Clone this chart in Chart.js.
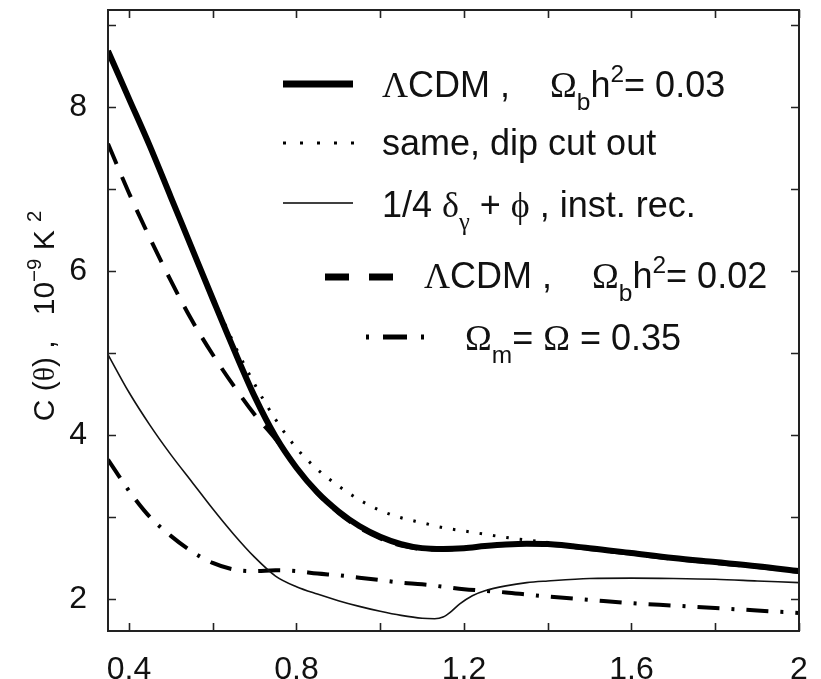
<!DOCTYPE html>
<html>
<head>
<meta charset="utf-8">
<script src="https://cdn.jsdelivr.net/npm/chart.js@4.4.1/dist/chart.umd.min.js"></script>
<style>
  html, body { margin: 0; padding: 0; background: #fff; }
</style>
</head>
<body>
<canvas id="c" width="821" height="679"></canvas>
<script>
// angle theta (deg) sampled on a common grid
var xGrid = [0.35, 0.40, 0.45, 0.50, 0.55, 0.60, 0.65, 0.70, 0.75, 0.80, 0.85, 0.90, 0.95, 1.00,
             1.05, 1.10, 1.15, 1.20, 1.25, 1.30, 1.35, 1.40, 1.50, 1.60, 1.70, 1.80, 1.90, 2.00];

// LCDM, Omega_b h^2 = 0.03
var lcdm03 = [8.68, 8.10, 7.52, 6.90, 6.28, 5.66, 5.05, 4.47, 3.98, 3.60, 3.30, 3.07, 2.89, 2.76,
              2.67, 2.62, 2.61, 2.62, 2.645, 2.665, 2.675, 2.67, 2.62, 2.56, 2.50, 2.45, 2.40, 2.34];
// same, dip cut out
var dipCut = [8.68, 8.10, 7.52, 6.90, 6.29, 5.69, 5.12, 4.62, 4.19, 3.84, 3.58, 3.38, 3.21, 3.08,
              2.99, 2.93, 2.87, 2.83, 2.79, 2.75, 2.72, 2.69, 2.63, 2.56, 2.50, 2.45, 2.40, 2.34];
// LCDM, Omega_b h^2 = 0.02
var lcdm02 = [7.55, 6.95, 6.40, 5.88, 5.40, 4.98, 4.60, 4.25, 3.95, 3.60, 3.29, 3.05, 2.87, 2.74,
              2.65, 2.61, 2.60, 2.62, 2.645, 2.665, 2.67, 2.665, 2.61, 2.55, 2.49, 2.44, 2.39, 2.33];
// Omega_m = Omega = 0.35
var omega35 = [3.70, 3.32, 3.00, 2.77, 2.58, 2.44, 2.36, 2.34, 2.35, 2.34, 2.31, 2.29, 2.26, 2.23,
               2.20, 2.18, 2.15, 2.12, 2.10, 2.08, 2.055, 2.03, 1.99, 1.95, 1.92, 1.89, 1.86, 1.83];

// 1/4 delta_gamma + phi, instantaneous recombination (finer near the dip)
var xInst = [0.35, 0.40, 0.45, 0.50, 0.55, 0.60, 0.65, 0.70, 0.75, 0.80, 0.85, 0.90, 0.95, 1.00, 1.05,
             1.10, 1.13, 1.15, 1.17, 1.19, 1.22, 1.25, 1.30, 1.35, 1.40, 1.50, 1.60, 1.70, 1.80, 1.90, 2.00];
var instRec = [4.98, 4.52, 4.12, 3.76, 3.43, 3.10, 2.79, 2.51, 2.28, 2.15, 2.06, 1.98, 1.91, 1.85, 1.80,
               1.765, 1.76, 1.78, 1.85, 1.94, 2.04, 2.10, 2.16, 2.20, 2.22, 2.25, 2.255, 2.25, 2.24, 2.22, 2.20];

var xTicks = [0.4, 0.6, 0.8, 1.0, 1.2, 1.4, 1.6, 1.8, 2.0];
var xTickLabels = ['0.4', '', '0.8', '', '1.2', '', '1.6', '', '2'];
var yTicks = [2, 3, 4, 5, 6, 7, 8, 9];
var yTickLabels = ['2', '', '4', '', '6', '', '8', ''];

function pts(xs, ys) {
	return xs.map(function(x, i) { return { x: x, y: ys[i] }; });
}

var SANS = '"Liberation Sans", Arial, sans-serif';
var SERIF = '"Liberation Serif", "Times New Roman", serif';
var INK = '#111';

// draws text made of pieces, with sub/superscripts
function richText(ctx, x, y, segs, size) {
	segs.forEach(function(s) {
		var sz = (s.sub || s.sup) ? size * 0.68 : size;
		var dy = s.sub ? size * 0.36 : (s.sup ? -size * 0.42 : 0);
		ctx.font = sz + 'px ' + (s.serif ? SERIF : SANS);
		ctx.fillText(s.t, x, y + dy);
		x += ctx.measureText(s.t).width;
	});
	return x;
}
function richWidth(ctx, segs, size) {
	var w = 0;
	segs.forEach(function(s) {
		var sz = (s.sub || s.sup) ? size * 0.68 : size;
		ctx.font = sz + 'px ' + (s.serif ? SERIF : SANS);
		w += ctx.measureText(s.t).width;
	});
	return w;
}

var legendRows = [
	{ y: 84, x0: 283, x1: 353, w: 7, dash: [], tx: 382, base: 97,
	  segs: [{t: 'Λ', serif: true}, {t: 'CDM ,    '}, {t: 'Ω', serif: true}, {t: 'b', sub: true}, {t: 'h'}, {t: '2', sup: true}, {t: '= 0.03'}] },
	{ y: 143, x0: 283, x1: 354, w: 3, dash: [3, 14], tx: 382, base: 155,
	  segs: [{t: 'same, dip cut out'}] },
	{ y: 203, x0: 283, x1: 353, w: 1.6, dash: [], tx: 382, base: 217,
	  segs: [{t: '1/4 '}, {t: 'δ', serif: true}, {t: 'γ', serif: true, sub: true}, {t: ' + '}, {t: 'ϕ', serif: true}, {t: ' , inst. rec.'}] },
	{ y: 277, x0: 325, x1: 393, w: 7, dash: [24, 20], tx: 424, base: 288,
	  segs: [{t: 'Λ', serif: true}, {t: 'CDM ,    '}, {t: 'Ω', serif: true}, {t: 'b', sub: true}, {t: 'h'}, {t: '2', sup: true}, {t: '= 0.02'}] },
	{ y: 337, x0: 366, x1: 425, w: 5, dash: [3, 14, 24, 14, 3, 100], tx: 465, base: 350,
	  segs: [{t: 'Ω', serif: true}, {t: 'm', sub: true}, {t: '= '}, {t: 'Ω', serif: true}, {t: ' = 0.35'}] }
];

var frame = {
	id: 'frame',
	afterDraw: function(chart) {
		var ctx = chart.ctx, a = chart.chartArea;
		var sx = chart.scales.x, sy = chart.scales.y;
		ctx.save();
		ctx.strokeStyle = '#222';
		ctx.lineWidth = 2;
		ctx.strokeRect(a.left, a.top, a.right - a.left, a.bottom - a.top);
		ctx.lineWidth = 1.6;
		ctx.beginPath();
		xTicks.forEach(function(v) {
			var p = Math.round(sx.getPixelForValue(v)) + 0.5;
			ctx.moveTo(p, a.bottom); ctx.lineTo(p, a.bottom - 8);
			ctx.moveTo(p, a.top); ctx.lineTo(p, a.top + 8);
		});
		yTicks.forEach(function(v) {
			var p = Math.round(sy.getPixelForValue(v)) + 0.5;
			ctx.moveTo(a.left, p); ctx.lineTo(a.left + 8, p);
			ctx.moveTo(a.right, p); ctx.lineTo(a.right - 8, p);
		});
		ctx.stroke();

		// legend
		ctx.fillStyle = INK;
		ctx.strokeStyle = '#000';
		ctx.textBaseline = 'alphabetic';
		legendRows.forEach(function(r) {
			ctx.lineWidth = r.w;
			ctx.setLineDash(r.dash);
			ctx.beginPath();
			ctx.moveTo(r.x0, r.y); ctx.lineTo(r.x1, r.y);
			ctx.stroke();
			ctx.setLineDash([]);
			richText(ctx, r.tx, r.base, r.segs, 36);
		});

		// y axis title
		var title = [{t: 'C ('}, {t: 'θ', serif: true}, {t: ') ,   10'}, {t: '−9', sup: true}, {t: ' K '}, {t: '2', sup: true}];
		ctx.translate(54, 316);
		ctx.rotate(-Math.PI / 2);
		var tw = richWidth(ctx, title, 30);
		richText(ctx, -tw / 2, 0, title, 30);
		ctx.restore();
	}
};

var tickFont = { family: SANS, size: 32 };

new Chart(document.getElementById('c'), {
	type: 'line',
	data: {
		datasets: [
			{ label: 'LCDM 0.03', data: pts(xGrid, lcdm03), borderColor: '#000', borderWidth: 6 },
			{ label: 'LCDM 0.02', data: pts(xGrid, lcdm02), borderColor: '#000', borderWidth: 4, borderDash: [22, 14] },
			{ label: 'dip cut out', data: pts(xGrid, dipCut), borderColor: '#000', borderWidth: 3, borderDash: [2.5, 11] },
			{ label: 'inst. rec.', data: pts(xInst, instRec), borderColor: '#111', borderWidth: 1.6 },
			{ label: 'Omega 0.35', data: pts(xGrid, omega35), borderColor: '#000', borderWidth: 4, borderDash: [22, 12, 3, 12] }
		]
	},
	options: {
		responsive: false,
		animation: false,
		layout: { padding: { top: 10, right: 22, left: 0, bottom: 0 } },
		elements: {
			point: { radius: 0 },
			line: { cubicInterpolationMode: 'monotone', fill: false, borderCapStyle: 'butt' }
		},
		plugins: { legend: { display: false }, tooltip: { enabled: false } },
		scales: {
			x: {
				type: 'linear', min: 0.35, max: 2,
				afterBuildTicks: function(s) { s.ticks = xTicks.map(function(v) { return { value: v }; }); },
				afterFit: function(s) { s.height = 48; s.paddingLeft = 0; s.paddingRight = 0; },
				grid: { display: false },
				border: { display: false },
				ticks: { autoSkip: false, maxRotation: 0, padding: 12, color: INK, font: tickFont,
					callback: function(v, i) { return xTickLabels[i]; } }
			},
			y: {
				type: 'linear', min: 1.61, max: 9.18,
				afterBuildTicks: function(s) { s.ticks = yTicks.map(function(v) { return { value: v }; }); },
				afterFit: function(s) { s.width = 108; s.paddingTop = 0; s.paddingBottom = 0; },
				grid: { display: false },
				border: { display: false },
				ticks: { autoSkip: false, padding: 13, color: INK, font: tickFont,
					callback: function(v, i) { return yTickLabels[i]; } }
			}
		}
	},
	plugins: [frame]
});
</script>
</body>
</html>
